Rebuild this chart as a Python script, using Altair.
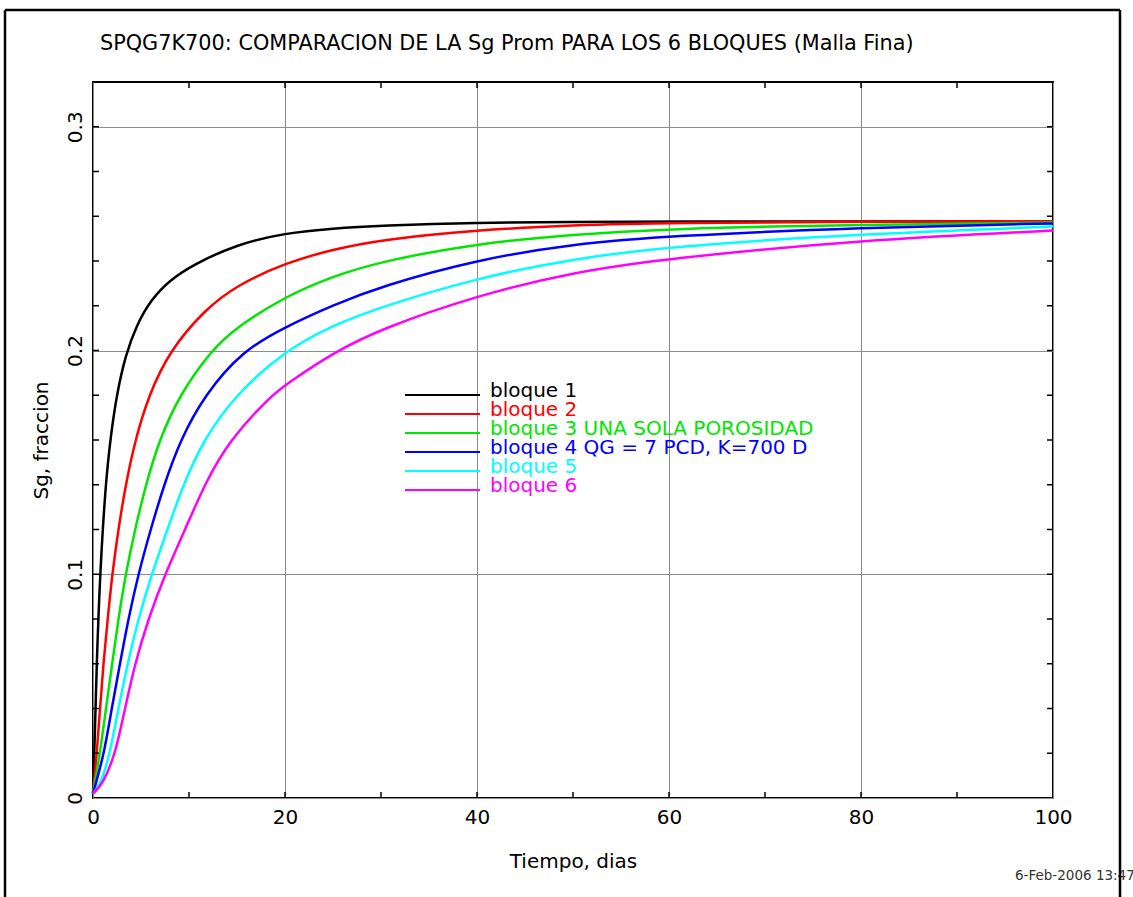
import altair as alt
import pandas as pd

# ---- data (x = Tiempo [dias], y = Sg [fraccion]) ----
series_names = ["bloque 1", "bloque 2", "bloque 3", "bloque 4", "bloque 5", "bloque 6"]
series_colors = ["#000000", "#ff0000", "#00e600", "#0000ff", "#00ffff", "#ff00ff"]

t_b1 = [0, 0.14, 0.38, 0.73, 1.3, 1.85, 2.5, 3.4, 4.5, 6.0, 8.0, 10.5, 15, 20, 25, 30, 40, 50, 60, 80, 100]
sg_b1 = [0.002, 0.02, 0.06, 0.10, 0.14, 0.162, 0.181, 0.198, 0.211, 0.2225, 0.2315, 0.2385, 0.2475, 0.2525, 0.2546, 0.2558, 0.2572, 0.2575, 0.2576, 0.2577, 0.2578]

t_b2 = [0, 0.4, 0.73, 1.08, 1.53, 2.0, 2.64, 3.4, 4.4, 5.8, 8.0, 11.7, 15, 20, 25, 30, 40, 50, 60, 80, 100]
sg_b2 = [0.002, 0.02, 0.04, 0.06, 0.08, 0.10, 0.12, 0.14, 0.16, 0.18, 0.20, 0.2185, 0.2292, 0.2391, 0.2452, 0.2495, 0.2539, 0.2560, 0.2570, 0.2576, 0.2578]

t_b3 = [0, 0.73, 1.35, 2.0, 2.64, 3.4, 4.37, 5.5, 6.9, 9.0, 12.3, 15, 20, 25, 30, 40, 50, 60, 80, 100]
sg_b3 = [0.002, 0.02, 0.04, 0.06, 0.08, 0.10, 0.12, 0.14, 0.16, 0.18, 0.20, 0.2105, 0.2241, 0.2332, 0.2398, 0.2479, 0.2518, 0.2545, 0.2562, 0.2572]

t_b4 = [0, 1.18, 1.94, 2.81, 3.68, 4.72, 6.0, 7.4, 9.1, 11.6, 15.6, 20, 25, 30, 40, 50, 60, 80, 100]
sg_b4 = [0.002, 0.02, 0.04, 0.06, 0.08, 0.10, 0.12, 0.14, 0.16, 0.18, 0.20, 0.2105, 0.2203, 0.2287, 0.2406, 0.2476, 0.2512, 0.2550, 0.2568]

t_b5 = [0, 0.8, 1.77, 2.64, 3.6, 4.72, 6.11, 7.75, 9.4, 11.5, 14.8, 20, 25, 30, 40, 50, 60, 80, 100]
sg_b5 = [0.002, 0.006, 0.02, 0.04, 0.06, 0.08, 0.10, 0.12, 0.14, 0.16, 0.18, 0.20, 0.2113, 0.2195, 0.2324, 0.2410, 0.2465, 0.2521, 0.2554]

t_b6 = [0, 1.0, 2.36, 3.33, 4.37, 5.76, 7.5, 9.6, 11.6, 14.2, 18.6, 20, 25, 30, 40, 50, 60, 80, 100]
sg_b6 = [0.002, 0.006, 0.02, 0.04, 0.06, 0.08, 0.10, 0.12, 0.14, 0.16, 0.18, 0.1845, 0.1990, 0.2097, 0.2246, 0.2350, 0.2412, 0.2494, 0.2536]

legend_labels = ["bloque 1", "bloque 2", "bloque 3 UNA SOLA POROSIDAD",
                 "bloque 4 QG = 7 PCD, K=700 D", "bloque 5", "bloque 6"]

x_grid_values = [0, 20, 40, 60, 80, 100]
y_grid_values = [0, 0.1, 0.2, 0.3]
x_minor_ticks = [10, 20, 30, 40, 50, 60, 70, 80, 90]
y_minor_ticks = [0.02, 0.04, 0.06, 0.08, 0.10, 0.12, 0.14, 0.16, 0.18, 0.20,
                 0.22, 0.24, 0.26, 0.28, 0.30]

title_text = "SPQG7K700: COMPARACION DE LA Sg Prom PARA LOS 6 BLOQUES (Malla Fina)"
stamp_text = "6-Feb-2006 13:47"

# ---- tables ----
all_t = [t_b1, t_b2, t_b3, t_b4, t_b5, t_b6]
all_sg = [sg_b1, sg_b2, sg_b3, sg_b4, sg_b5, sg_b6]
rows = []
for name, ts, ys in zip(series_names, all_t, all_sg):
    for t, y in zip(ts, ys):
        rows.append({"serie": name, "t": t, "sg": y})
df = pd.DataFrame(rows)

df_leg = pd.DataFrame({"label": legend_labels, "color": series_colors,
                       "row": list(range(len(legend_labels)))})
df_xt = pd.DataFrame({"v": x_minor_ticks})
df_yt = pd.DataFrame({"v": y_minor_ticks})

W, H = 960, 716
FONT = "DejaVu Sans"

x_scale = alt.Scale(domain=[0, 100], nice=False, zero=False)
y_scale = alt.Scale(domain=[0, 0.32], nice=False, zero=False)

lines = alt.Chart(df).mark_line(strokeWidth=2.5, interpolate="basis").encode(
    x=alt.X("t:Q", scale=x_scale,
            axis=alt.Axis(values=x_grid_values, grid=True, gridColor="#8c8c8c",
                          gridWidth=1, ticks=False, domain=False,
                          labelFontSize=20, labelFont=FONT, labelPadding=9,
                          labelColor="black", labelFlush=False,
                          title="Tiempo, dias", titleFont=FONT, titleFontSize=20,
                          titleFontWeight="normal", titleColor="black",
                          titlePadding=24)),
    y=alt.Y("sg:Q", scale=y_scale,
            axis=alt.Axis(values=y_grid_values, grid=True, gridColor="#8c8c8c",
                          gridWidth=1, ticks=False, domain=False,
                          labelExpr="datum.value == 0 ? '0' : format(datum.value, '.1f')",
                          labelAngle=270, labelAlign="center", labelBaseline="alphabetic",
                          labelFontSize=20, labelFont=FONT, labelPadding=12,
                          labelColor="black", labelFlush=False,
                          title="Sg, fraccion", titleFont=FONT, titleFontSize=20,
                          titleFontWeight="normal", titleColor="black",
                          titlePadding=14)),
    color=alt.Color("serie:N", scale=alt.Scale(domain=series_names, range=series_colors),
                    legend=None),
)

tick_x_bottom = alt.Chart(df_xt).mark_rule(color="black", strokeWidth=1.5).encode(
    x=alt.X("v:Q", scale=x_scale, axis=None), y=alt.value(H), y2=alt.value(H - 6))
tick_x_top = alt.Chart(df_xt).mark_rule(color="black", strokeWidth=1.5).encode(
    x=alt.X("v:Q", scale=x_scale, axis=None), y=alt.value(0), y2=alt.value(6))
tick_y_left = alt.Chart(df_yt).mark_rule(color="black", strokeWidth=1.5).encode(
    y=alt.Y("v:Q", scale=y_scale, axis=None), x=alt.value(0), x2=alt.value(6))
tick_y_right = alt.Chart(df_yt).mark_rule(color="black", strokeWidth=1.5).encode(
    y=alt.Y("v:Q", scale=y_scale, axis=None), x=alt.value(W), x2=alt.value(W - 6))

leg_base = alt.Chart(df_leg).transform_calculate(py="313 + datum.row * 19")
leg_lines = leg_base.mark_rule(strokeWidth=2).encode(
    x=alt.value(312), x2=alt.value(387),
    y=alt.Y("py:Q", scale=None, axis=None),
    color=alt.Color("color:N", scale=None, legend=None))
leg_text = leg_base.mark_text(align="left", baseline="alphabetic", fontSize=20,
                              font=FONT, dy=2).encode(
    x=alt.value(397),
    y=alt.Y("py:Q", scale=None, axis=None),
    text="label:N",
    color=alt.Color("color:N", scale=None, legend=None))

title_mark = alt.Chart(pd.DataFrame({"s": [title_text]})).mark_text(
    align="left", baseline="alphabetic", fontSize=20.8, font=FONT, color="black").encode(
    x=alt.value(7), y=alt.value(-32), text="s:N")

stamp = alt.Chart(pd.DataFrame({"s": [stamp_text]})).mark_text(
    align="left", baseline="alphabetic", fontSize=13.5, font=FONT, color="#333333").encode(
    x=alt.value(922), y=alt.value(798), text="s:N")

frame_df = pd.DataFrame({"k": [0]})
frame_top = alt.Chart(frame_df).mark_rule(color="black", strokeWidth=2.5).encode(
    x=alt.value(-88), x2=alt.value(1027), y=alt.value(-72))
frame_left = alt.Chart(frame_df).mark_rule(color="black", strokeWidth=2.5).encode(
    x=alt.value(-88), y=alt.value(-72), y2=alt.value(820))
frame_right = alt.Chart(frame_df).mark_rule(color="black", strokeWidth=2.5).encode(
    x=alt.value(1027), y=alt.value(-72), y2=alt.value(820))

chart = alt.layer(
    lines, tick_x_bottom, tick_x_top, tick_y_left, tick_y_right,
    leg_lines, leg_text, title_mark, stamp, frame_top, frame_left, frame_right,
).resolve_scale(x="independent", y="independent", color="independent").properties(
    width=W, height=H,
    autosize=alt.AutoSizeParams(type="none"),
    padding={"left": 93, "top": 82, "right": 80, "bottom": 99},
    background="white",
).configure_view(stroke="black", strokeWidth=2)

chart.save("out.html", embed_options={"renderer": "svg", "actions": False})
